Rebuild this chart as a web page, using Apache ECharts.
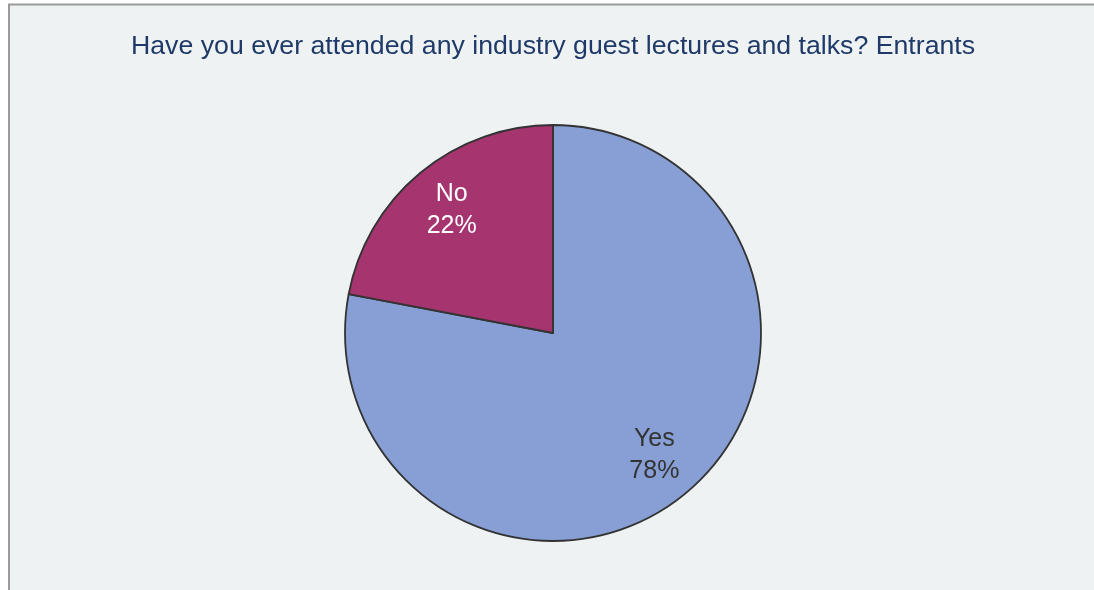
<!DOCTYPE html>
<html>
<head>
<meta charset="utf-8">
<script src="https://cdn.jsdelivr.net/npm/echarts@6/dist/echarts.min.js"></script>
<style>
  html, body { margin: 0; padding: 0; background: #ffffff; }
  #chart { width: 1094px; height: 590px; }
</style>
</head>
<body>
<div id="chart"></div>
<script>
// Survey answers and their shares (percent)
const categories = ['Yes', 'No'];
const shares = [78, 22];
const sliceColors = ['#879fd4', '#a5346f'];
const labelColors = ['#333333', '#ffffff'];
const chartTitle = 'Have you ever attended any industry guest lectures and talks? Entrants';

const chart = echarts.init(document.getElementById('chart'), null, { renderer: 'canvas' });

const pieData = categories.map((name, i) => ({
  name: name,
  value: shares[i],
  itemStyle: { color: sliceColors[i] },
  label: { color: labelColors[i] }
}));

chart.setOption({
  animation: false,
  backgroundColor: '#ffffff',
  graphic: [{
    type: 'rect',
    z: -10,
    shape: { x: 9, y: 4.5, width: 1200, height: 700 },
    style: { fill: '#eef2f3', stroke: '#9a9a9a', lineWidth: 2 }
  }],
  title: {
    text: chartTitle,
    left: 126,
    top: 28,
    textStyle: {
      fontFamily: 'Liberation Sans, Arial, sans-serif',
      fontSize: 26.7,
      fontWeight: 'normal',
      color: '#1f3a68'
    }
  },
  series: [
    {
      // visible slices
      type: 'pie',
      center: [553, 333],
      radius: [0, 208],
      startAngle: 90,
      clockwise: true,
      silent: true,
      label: { show: false },
      labelLine: { show: false },
      itemStyle: { borderColor: '#333333', borderWidth: 1.8 },
      data: pieData
    },
    {
      // transparent ring carrying the labels further out from the centre
      type: 'pie',
      center: [553, 333],
      radius: [0, 312],
      startAngle: 90,
      clockwise: true,
      silent: true,
      z: 3,
      itemStyle: { color: 'transparent', borderWidth: 0 },
      labelLine: { show: false },
      label: {
        show: true,
        position: 'inside',
        formatter: p => p.name + '\n' + p.value + '%',
        fontFamily: 'Liberation Sans, Arial, sans-serif',
        fontSize: 25,
        lineHeight: 32
      },
      data: categories.map((name, i) => ({
        name: name,
        value: shares[i],
        itemStyle: { color: 'transparent' },
        label: { color: labelColors[i] }
      }))
    }
  ]
});
</script>
</body>
</html>
